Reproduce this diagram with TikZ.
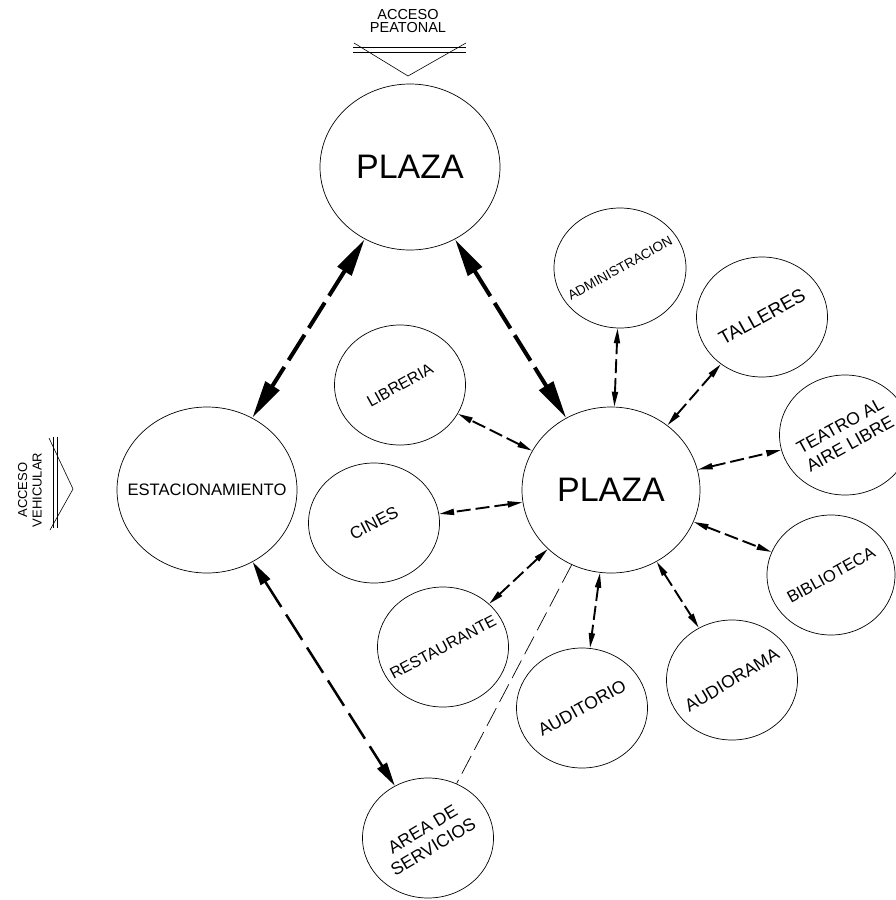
\documentclass[tikz,border=0pt]{standalone}
\usepackage{fontspec}
\setmainfont{Liberation Sans}
\usetikzlibrary{shapes.geometric, arrows.meta}

\newcommand{\tam}[1]{\fontsize{#1}{20.5}\selectfont}

\begin{document}
\begin{tikzpicture}[x=1pt, y=-1pt,
    plaza/.style={draw, ellipse, line width=0.7pt, inner sep=0pt, minimum width=180pt, minimum height=166pt},
    espacio/.style={draw, ellipse, line width=0.7pt, inner sep=0pt, minimum width=131pt, minimum height=120pt},
    rotulo/.style={align=center, inner sep=0pt},
    acceso/.style={align=center, inner sep=0pt, font=\fontsize{13}{14.5}\selectfont},
    simbolo/.style={line width=0.6pt},
    principal/.style={{Triangle[length=38pt, width=16pt]}-{Triangle[length=38pt, width=16pt]}, line width=4pt, dash pattern=on 30pt off 8pt},
    servicio/.style={{Triangle[length=24pt, width=11pt]}-{Triangle[length=24pt, width=11pt]}, line width=2.5pt, dash pattern=on 30pt off 9pt},
    flujo/.style={{Triangle[length=15pt, width=6pt]}-{Triangle[length=15pt, width=6pt]}, line width=1.9pt, dash pattern=on 14pt off 5pt},
    liga/.style={line width=0.7pt, dash pattern=on 20pt off 7pt}]
    \useasboundingbox (0,0) rectangle (895,900);

    % Accesos
    \node[acceso, font=\fontsize{14.5}{13}\selectfont] (peatonal) at (408,21) {ACCESO\\PEATONAL};
    \draw[simbolo] (353,47) -- (466,47) (353,52) -- (466,52);
    \draw[simbolo] (354,43) -- (408,76) -- (466,43);
    \node[acceso, rotate=90] (vehicular) at (30,490) {ACCESO\\VEHICULAR};
    \draw[simbolo] (53,437) -- (53,528) (57,437) -- (57,528);
    \draw[simbolo] (49,438) -- (73,489) -- (50,530);

    % Plazas y estacionamiento
    \node[plaza, label={[rotulo, font=\tam{34}]center:PLAZA}] (plazaacceso) at (410,167) {};
    \node[plaza, minimum width=178pt, label={[rotulo, font=\tam{34}]center:PLAZA}] (plazacentral) at (611,490) {};
    \node[plaza, label={[rotulo, font=\tam{16.6}]center:ESTACIONAMIENTO}] (estacionamiento) at (207,490) {};

    % Espacios alrededor de la plaza central
    \node[espacio, label={[rotulo, rotate=29, font=\tam{16}]center:LIBRERIA}] (libreria) at (400,385) {};
    \node[espacio, label={[rotulo, rotate=27, font=\tam{17}]center:CINES}] (cines) at (374,523) {};
    \node[espacio, label={[rotulo, rotate=28, font=\tam{16}]center:RESTAURANTE}] (restaurante) at (443,647) {};
    \node[espacio, label={[rotulo, rotate=29, font=\tam{17.6}]center:AUDITORIO}] (auditorio) at (582,708) {};
    \node[espacio, label={[rotulo, rotate=31, font=\tam{17.6}]center:AREA DE\\SERVICIOS}] (servicios) at (428,838) {};
    \node[espacio, label={[rotulo, rotate=31, font=\tam{17.6}]center:AUDIORAMA}] (audiorama) at (732,680) {};
    \node[espacio, minimum width=128pt, label={[rotulo, rotate=29, font=\tam{16.6}]center:BIBLIOTECA}] (biblioteca) at (831,575) {};
    \node[espacio, label={[rotulo, rotate=29, font=\tam{17.6}]center:TEATRO AL\\AIRE LIBRE}] (teatro) at (845,435) {};
    \node[espacio, label={[rotulo, rotate=29, font=\tam{19}]center:TALLERES}] (talleres) at (762,317) {};
    \node[espacio, minimum width=132pt, label={[rotulo, rotate=29, font=\tam{13.5}]center:ADMINISTRACION}] (administracion) at (620,268) {};

    % Circulaciones
    \draw[principal] (plazaacceso) -- (estacionamiento);
    \draw[principal] (plazaacceso) -- (plazacentral);
    \draw[servicio] (estacionamiento) -- (servicios);
    \draw[liga] (plazacentral) -- (servicios);
    \draw[flujo] (plazacentral) -- (libreria);
    \draw[flujo] (plazacentral) -- (cines);
    \draw[flujo] (plazacentral) -- (restaurante);
    \draw[flujo] (plazacentral) -- (auditorio);
    \draw[flujo] (plazacentral) -- (audiorama);
    \draw[flujo] (plazacentral) -- (biblioteca);
    \draw[flujo] (plazacentral) -- (teatro);
    \draw[flujo] (plazacentral) -- (talleres);
    \draw[flujo] (plazacentral) -- (administracion);
\end{tikzpicture}
\end{document}
